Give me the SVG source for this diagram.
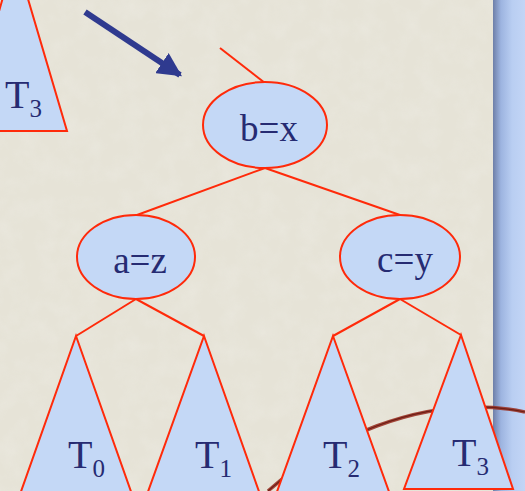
<svg xmlns="http://www.w3.org/2000/svg" width="525" height="491" viewBox="0 0 525 491">
<defs>
<style>
.edge{stroke:#FF2A0A;stroke-width:2;fill:none}
.node{fill:#C4D8F6;stroke:#FF2A0A;stroke-width:2}
.lbl{font-family:"Liberation Serif","Times New Roman",serif;fill:#262B72}
.big{font-size:37px}
.t{font-size:40px}
.sub{font-size:25px}
</style>
<linearGradient id="stripe" x1="0" y1="0" x2="1" y2="0">
<stop offset="0" stop-color="#6E7FA8"/>
<stop offset="0.25" stop-color="#9DB4E0"/>
<stop offset="0.6" stop-color="#B9CEF2"/>
<stop offset="1" stop-color="#C2D5F6"/>
</linearGradient>
<filter id="grain" x="0" y="0" width="100%" height="100%">
<feTurbulence type="fractalNoise" baseFrequency="0.05" numOctaves="3" seed="4"/>
<feColorMatrix type="matrix" values="0 0 0 0 0.85  0 0 0 0 0.84  0 0 0 0 0.78  0 0 0 -1.2 0.75"/>
</filter>
<marker id="ah" viewBox="0 0 10 10" refX="9" refY="5" markerWidth="4" markerHeight="4" orient="auto" markerUnits="strokeWidth">
<path d="M0,0 L10,5 L0,10 Z" fill="#2F3A8F"/>
</marker>
</defs>
<rect width="525" height="491" fill="#E6E3D7"/>
<rect width="495" height="491" filter="url(#grain)" opacity="0.6"/>
<rect x="493" y="0" width="32" height="491" fill="url(#stripe)"/>
<path d="M268,491 C320,445 420,390 525,412" fill="none" stroke="#9A3326" stroke-width="3.5" opacity="0.9"/>
<path d="M268,491 C320,445 420,390 525,412" fill="none" stroke="#6E1E16" stroke-width="1.2"/>

<g id="arrow">
<line x1="85" y1="12" x2="180" y2="75" stroke="#2F3A8F" stroke-width="6" marker-end="url(#ah)"/>
</g>

<g id="connectors">
<line class="edge" x1="220" y1="48" x2="265" y2="83"/>
<line class="edge" x1="265" y1="168" x2="137" y2="215"/>
<line class="edge" x1="265" y1="168" x2="400" y2="215"/>
<line class="edge" x1="136" y1="299" x2="76" y2="336"/>
<line class="edge" x1="136" y1="299" x2="204" y2="336"/>
<line class="edge" x1="400" y1="299" x2="333" y2="336"/>
<line class="edge" x1="400" y1="299" x2="461" y2="335"/>
</g>

<g id="T3-top">
<polygon class="node" points="15,-45 67,131 -35,131"/>
<text class="lbl" x="5" y="108"><tspan class="t">T</tspan><tspan class="sub" dy="9">3</tspan></text>
</g>

<g id="node-bx">
<ellipse class="node" cx="265" cy="125" rx="62" ry="43"/>
<text class="lbl big" x="269" y="141" text-anchor="middle">b=x</text>
</g>
<g id="node-az">
<ellipse class="node" cx="136" cy="257" rx="59" ry="42"/>
<text class="lbl big" x="140" y="273" text-anchor="middle">a=z</text>
</g>
<g id="node-cy">
<ellipse class="node" cx="400" cy="257" rx="60" ry="42"/>
<text class="lbl big" x="405" y="272" text-anchor="middle">c=y</text>
</g>

<g id="T0">
<polygon class="node" points="76,336 134,500 18,500"/>
<text class="lbl" x="68" y="468"><tspan class="t">T</tspan><tspan class="sub" dy="9">0</tspan></text>
</g>
<g id="T1">
<polygon class="node" points="204,336 262,500 145,500"/>
<text class="lbl" x="195" y="468"><tspan class="t">T</tspan><tspan class="sub" dy="9">1</tspan></text>
</g>
<g id="T2">
<polygon class="node" points="333,336 392,500 274,500"/>
<text class="lbl" x="323" y="468"><tspan class="t">T</tspan><tspan class="sub" dy="9">2</tspan></text>
</g>
<g id="T3">
<polygon class="node" points="461,335 513,489 404,489"/>
<text class="lbl" x="452" y="466"><tspan class="t">T</tspan><tspan class="sub" dy="9">3</tspan></text>
</g>
</svg>
